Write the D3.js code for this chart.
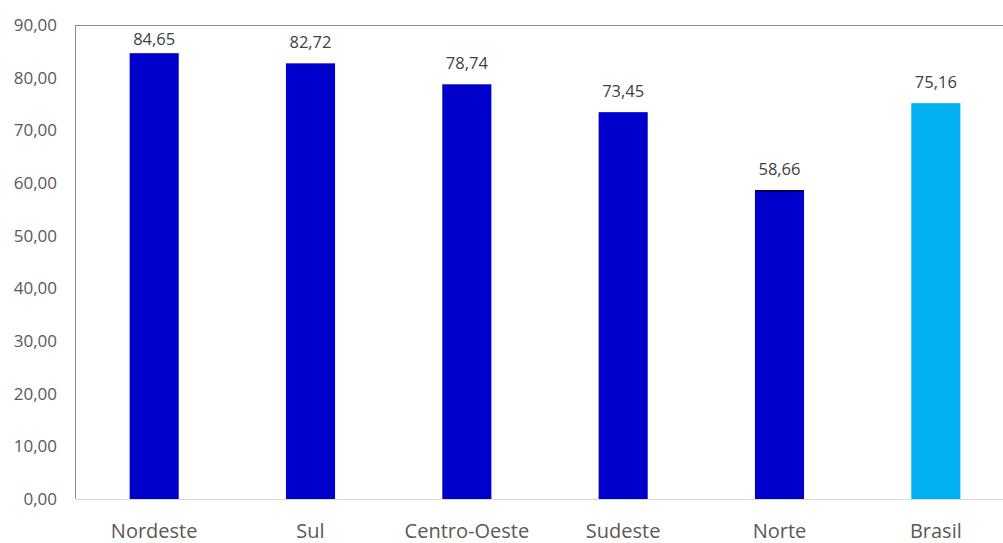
<!DOCTYPE html>
<html><head><meta charset="utf-8">
<script src="https://cdn.jsdelivr.net/npm/d3@7"></script>
<style>
html,body{margin:0;padding:0;background:#fff;}
svg{display:block;font-family:"Open Sans",sans-serif;}
</style></head>
<body>
<script>
const categories = ["Nordeste","Sul","Centro-Oeste","Sudeste","Norte","Brasil"];
const values = [84.65, 82.72, 78.74, 73.45, 58.66, 75.16];
const yTicks = [0,10,20,30,40,50,60,70,80,90];

(function(){
const W = 1003, H = 543;
const mLeft = 76, mRight = 1014, mTop = 25, mBottom = 499;

const svg = d3.select("body").append("svg").attr("width", W).attr("height", H);

const x = d3.scaleBand().domain(categories).range([mLeft, mRight])
  .paddingInner(0.686).paddingOuter(0.343);
const y = d3.scaleLinear().domain([0, 90]).range([mBottom, mTop]);
const fmt = v => d3.format(".2f")(v).replace(".", ",");

// frame lines
svg.append("line").attr("x1", mLeft).attr("x2", W).attr("y1", mTop + 0.5).attr("y2", mTop + 0.5)
  .attr("stroke", "#8c8c8c").attr("stroke-width", 1);
svg.append("line").attr("x1", mLeft - 0.5).attr("x2", mLeft - 0.5).attr("y1", mTop).attr("y2", mBottom)
  .attr("stroke", "#8c8c8c").attr("stroke-width", 1);

// y axis labels
const yAxis = d3.axisLeft(y).tickValues(yTicks).tickFormat(fmt).tickSize(0).tickPadding(19);
const gy = svg.append("g").attr("transform", `translate(${mLeft},0)`).call(yAxis);
gy.select(".domain").remove();
gy.selectAll("text").attr("fill", "#595959").attr("font-size", 17).attr("font-family", "'Open Sans',sans-serif");

// bars
svg.selectAll("rect.bar").data(categories).join("rect").attr("class", "bar")
  .attr("x", d => x(d)).attr("width", x.bandwidth())
  .attr("y", (d, i) => y(values[i])).attr("height", (d, i) => mBottom - y(values[i]))
  .attr("fill", d => d === "Brasil" ? "#00B0F0" : "#0000CC");

// dark top edge on Norte bar
const ni = categories.indexOf("Norte");
svg.append("line").attr("x1", x("Norte")).attr("x2", x("Norte") + x.bandwidth())
  .attr("y1", y(values[ni]) + 0.75).attr("y2", y(values[ni]) + 0.75)
  .attr("stroke", "#000033").attr("stroke-width", 1.5);

// x axis
const xAxis = d3.axisBottom(x).tickSize(0).tickPadding(25);
const gx = svg.append("g").attr("transform", `translate(0,${mBottom})`).call(xAxis);
gx.select(".domain").remove();
svg.append("line").attr("x1", mLeft).attr("x2", W).attr("y1", mBottom + 0.5).attr("y2", mBottom + 0.5)
  .attr("stroke", "#d9d9d9").attr("stroke-width", 1);
gx.selectAll("text").attr("fill", "#595959").attr("font-size", 20).attr("font-family", "'Open Sans',sans-serif");

// data labels
svg.selectAll("text.lbl").data(categories).join("text").attr("class", "lbl")
  .attr("x", d => x(d) + x.bandwidth() / 2)
  .attr("y", (d, i) => Math.max(y(values[i]) - 15, 45))
  .attr("text-anchor", "middle").attr("fill", "#404040").attr("font-size", 16.5)
  .text((d, i) => fmt(values[i]));
})();
</script>
</body></html>
